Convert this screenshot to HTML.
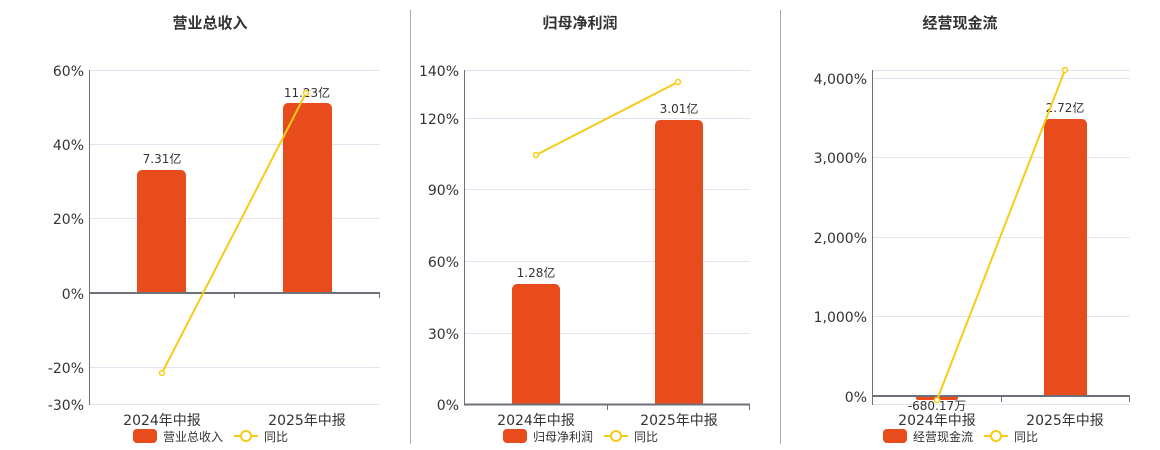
<!DOCTYPE html>
<html><head><meta charset="utf-8"><style>
html,body{margin:0;padding:0;background:#fff;width:1160px;height:450px;overflow:hidden}
text{font-family:"DejaVu Sans","Noto Sans CJK SC",sans-serif;fill:#333}
.t{font-size:15px;font-weight:bold;text-anchor:middle}
.yl{font-size:14px;text-anchor:end}
.xl{font-size:14px;text-anchor:middle}
.lb{font-size:12px;text-anchor:middle}
.lg{font-size:12px}
.g{stroke:#dfe4f0;stroke-width:1}
.ax{stroke:#6e7079;stroke-width:1}
.bar{fill:#e84c1c}
.ln{stroke:#f5cc17;stroke-width:2;fill:none}
.pt{fill:#fff;stroke:#f5cc17;stroke-width:1.5}
</style></head><body>
<svg width="1160" height="450" xmlns="http://www.w3.org/2000/svg">
<line x1="410.5" y1="10" x2="410.5" y2="444" stroke="#aaa"/>
<line x1="780.5" y1="10" x2="780.5" y2="444" stroke="#aaa"/>

<!-- Chart 1 -->
<text class="t" x="210" y="28">营业总收入</text>
<g>
<line class="g" x1="89" y1="70.5" x2="380" y2="70.5"/>
<line class="g" x1="89" y1="144.5" x2="380" y2="144.5"/>
<line class="g" x1="89" y1="218.5" x2="380" y2="218.5"/>
<line class="g" x1="89" y1="367.5" x2="380" y2="367.5"/>
<line class="g" x1="89" y1="404.5" x2="380" y2="404.5"/>
<text class="yl" x="84" y="76">60%</text>
<text class="yl" x="84" y="150">40%</text>
<text class="yl" x="84" y="224">20%</text>
<text class="yl" x="84" y="299">0%</text>
<text class="yl" x="84" y="373">-20%</text>
<text class="yl" x="84" y="410">-30%</text>
<path class="bar" d="M137,293V175a5,5 0 0 1 5,-5H181a5,5 0 0 1 5,5V293Z"/>
<path class="bar" d="M283,293V108a5,5 0 0 1 5,-5H327a5,5 0 0 1 5,5V293Z"/>
<line class="ax" x1="89.5" y1="70" x2="89.5" y2="405"/>
<line x1="89" y1="293" x2="380" y2="293" stroke="#6e7079" stroke-width="2"/>
<line class="ax" x1="234.5" y1="293" x2="234.5" y2="298"/>
<line class="ax" x1="379.5" y1="293" x2="379.5" y2="298"/>
<text class="lb" x="162" y="163">7.31亿</text>
<text class="lb" x="307" y="97">11.23亿</text>
<polyline class="ln" points="162,373 306,93"/>
<circle class="pt" cx="162" cy="373" r="2.5"/><circle class="pt" cx="306" cy="93" r="2.5"/>
<text class="xl" x="162" y="425">2024年中报</text>
<text class="xl" x="307" y="425">2025年中报</text>
<rect x="133" y="429" width="24" height="14" rx="4" class="bar"/>
<text class="lg" x="163" y="441">营业总收入</text>
<line class="ln" x1="234" y1="436" x2="258" y2="436"/><circle cx="246" cy="436" r="5" fill="#fff" stroke="#f5cc17" stroke-width="2"/>
<text class="lg" x="264" y="441">同比</text>
</g>

<!-- Chart 2 -->
<text class="t" x="580" y="28">归母净利润</text>
<g>
<line class="g" x1="464" y1="70.5" x2="750" y2="70.5"/>
<line class="g" x1="464" y1="118.5" x2="750" y2="118.5"/>
<line class="g" x1="464" y1="189.5" x2="750" y2="189.5"/>
<line class="g" x1="464" y1="261.5" x2="750" y2="261.5"/>
<line class="g" x1="464" y1="333.5" x2="750" y2="333.5"/>
<text class="yl" x="459" y="76">140%</text>
<text class="yl" x="459" y="124">120%</text>
<text class="yl" x="459" y="195">90%</text>
<text class="yl" x="459" y="267">60%</text>
<text class="yl" x="459" y="339">30%</text>
<text class="yl" x="459" y="410">0%</text>
<path class="bar" d="M512,405V289a5,5 0 0 1 5,-5H555a5,5 0 0 1 5,5V405Z"/>
<path class="bar" d="M655,405V125a5,5 0 0 1 5,-5H698a5,5 0 0 1 5,5V405Z"/>
<line class="ax" x1="464.5" y1="70" x2="464.5" y2="405"/>
<line x1="464" y1="404.5" x2="750" y2="404.5" stroke="#6e7079" stroke-width="2"/>
<line class="ax" x1="607.5" y1="404" x2="607.5" y2="410"/>
<line class="ax" x1="749.5" y1="404" x2="749.5" y2="410"/>
<text class="lb" x="536" y="277">1.28亿</text>
<text class="lb" x="679" y="113">3.01亿</text>
<polyline class="ln" points="536,155 678,82"/>
<circle class="pt" cx="536" cy="155" r="2.5"/><circle class="pt" cx="678" cy="82" r="2.5"/>
<text class="xl" x="536" y="425">2024年中报</text>
<text class="xl" x="679" y="425">2025年中报</text>
<rect x="503" y="429" width="24" height="14" rx="4" class="bar"/>
<text class="lg" x="533" y="441">归母净利润</text>
<line class="ln" x1="604" y1="436" x2="628" y2="436"/><circle cx="616" cy="436" r="5" fill="#fff" stroke="#f5cc17" stroke-width="2"/>
<text class="lg" x="634" y="441">同比</text>
</g>

<!-- Chart 3 -->
<text class="t" x="960" y="28">经营现金流</text>
<g>
<line class="g" x1="872" y1="70.5" x2="1130" y2="70.5"/>
<line class="g" x1="872" y1="78.5" x2="1130" y2="78.5"/>
<line class="g" x1="872" y1="157.5" x2="1130" y2="157.5"/>
<line class="g" x1="872" y1="237.5" x2="1130" y2="237.5"/>
<line class="g" x1="872" y1="316.5" x2="1130" y2="316.5"/>
<line class="g" x1="872" y1="404.5" x2="1130" y2="404.5"/>
<text class="yl" x="867" y="84">4,000%</text>
<text class="yl" x="867" y="163">3,000%</text>
<text class="yl" x="867" y="243">2,000%</text>
<text class="yl" x="867" y="322">1,000%</text>
<text class="yl" x="867" y="402">0%</text>
<path class="bar" d="M916,396H958V398a2,2 0 0 1 -2,2H918a2,2 0 0 1 -2,-2Z"/>
<path class="bar" d="M1044,396V124a5,5 0 0 1 5,-5H1082a5,5 0 0 1 5,5V396Z"/>
<line class="ax" x1="872.5" y1="70" x2="872.5" y2="405"/>
<line x1="872" y1="396" x2="1130" y2="396" stroke="#6e7079" stroke-width="2"/>
<line class="ax" x1="1001.5" y1="396" x2="1001.5" y2="402"/>
<line class="ax" x1="1129.5" y1="396" x2="1129.5" y2="402"/>
<text class="lb" x="937" y="410">-680.17万</text>
<text class="lb" x="1065" y="112">2.72亿</text>
<polyline class="ln" points="937,400 1065,70"/>
<circle class="pt" cx="937" cy="400" r="2.5"/><circle class="pt" cx="1065" cy="70" r="2.5"/>
<text class="xl" x="937" y="425">2024年中报</text>
<text class="xl" x="1065" y="425">2025年中报</text>
<rect x="883" y="429" width="24" height="14" rx="4" class="bar"/>
<text class="lg" x="913" y="441">经营现金流</text>
<line class="ln" x1="984" y1="436" x2="1008" y2="436"/><circle cx="996" cy="436" r="5" fill="#fff" stroke="#f5cc17" stroke-width="2"/>
<text class="lg" x="1014" y="441">同比</text>
</g>
</svg>
</body></html>
